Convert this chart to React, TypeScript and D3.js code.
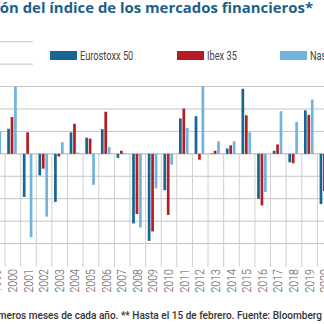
import React from "react";
import * as d3 from "d3";

const years: string[] = [
  "1999", "2000", "2001", "2002", "2003", "2004", "2005", "2006", "2007", "2008", "2009",
  "2010", "2011", "2012", "2013", "2014", "2015", "2016", "2017", "2018", "2019", "2020",
];
const seriesNames: string[] = ["Eurostoxx 50", "Ibex 35", "Nasdaq"];
const eurostoxx: number[] = [3.0, 5.6, -9.6, -4.8, -10.7, 4.8, 3.6, 5.5, -0.9, -15.5, -19.4, -8.1, 7.9, 8.4, 0.1, 1.2, 14.5, -10.0, 0.7, -1.9, 9.7, -11.2];
const ibex: number[] = [2.0, 8.2, 4.8, -3.3, -0.6, 6.7, 3.4, 9.4, 0.7, -13.4, -17.3, -13.6, 10.1, -1.3, 0.7, 1.9, 8.6, -11.5, 2.1, -2.1, 8.7, -8.3];
const nasdaq: number[] = [5.0, 15.0, -18.6, -14.0, 2.6, 0.3, -6.9, 1.5, 0.2, -16.4, -7.7, -2.4, 5.8, 15.1, 2.8, 2.8, 4.8, -8.5, 9.5, 7.1, 12.1, -5.0];
const yTicks: number[] = [-20, -15, -10, -5, 0, 5, 10, 15, 20, 25];
const colors: string[] = ["#176593", "#b51d25", "#72b3db"];
const titleText = "Evolución del índice de los mercados financieros*";
const footerText = "* Primeros meses de cada año. ** Hasta el 15 de febrero. Fuente: Bloomberg";

const W = 324;
const H = 324;

export default function App() {
  const values = [eurostoxx, ibex, nasdaq];
  const step = 15.62;
  const x0 = -10.62;
  const x = d3.scaleBand<string>().domain(years).range([x0, x0 + years.length * step]).padding(0);
  const inner = d3.scaleBand<string>().domain(seriesNames).range([2.2, 11.8]).paddingInner(0.217).paddingOuter(0);
  const y = d3.scaleLinear().domain([-25, 25]).range([266, 41.7]);
  const zero = y(0);
  const boundaries = years.map((yr) => x(yr) as number).concat([x0 + years.length * step]);
  const legendPos = [50, 177, 280];
  const sans = "Roboto, 'Open Sans', sans-serif";

  return (
    <svg width={W} height={H} style={{ position: "absolute", left: 0, top: 0, background: "#fff" }}>
      <rect x={0} y={0} width={W} height={H} fill="#fff" />
      {/* horizontal gridlines */}
      {yTicks.map((t) => (
        <line key={"h" + t} x1={0} x2={W} y1={y(t)} y2={y(t)} stroke={t === 0 ? "#b0b0b0" : "#c4c4c4"} strokeWidth={1} />
      ))}
      {/* vertical tick lines below zero */}
      {boundaries.map((b, i) => (
        <line key={"v" + i} x1={b} x2={b} y1={zero} y2={267} stroke="#cfcfcf" strokeWidth={1} />
      ))}
      {/* legend background */}
      <rect x={33} y={34} width={W - 33} height={44} fill="#fff" />
      {/* bars */}
      {values.map((vals, si) =>
        vals.map((v, i) => {
          const bx = (x(years[i]) as number) + (inner(seriesNames[si]) as number);
          const y1 = y(Math.max(0, v));
          const y2 = y(Math.min(0, v));
          return (
            <rect key={si + "-" + i} x={bx} y={y1} width={inner.bandwidth()} height={Math.max(0.5, y2 - y1)} fill={colors[si]} />
          );
        })
      )}
      {/* legend */}
      {seriesNames.map((s, i) => (
        <g key={"lg" + s}>
          <rect x={legendPos[i]} y={51} width={27} height={9} fill={colors[i]} />
          <text transform={`translate(${legendPos[i] + 30},60) scale(0.74,1)`} fontFamily={sans} fontSize={12.5} fill="#444">
            {s}
          </text>
        </g>
      ))}
      {/* year labels */}
      {years.map((yr) => {
        const cx = (x(yr) as number) + step / 2 - 0.3;
        return (
          <text key={"yl" + yr} transform={`translate(${cx},269) rotate(-90) scale(0.85,1)`} textAnchor="end" dy="0.35em" fontFamily={sans} fontWeight={300} fontSize={12.5} fill="#555">
            {yr}
          </text>
        );
      })}
      {/* title */}
      <text transform="translate(313,12.5) scale(1.095,1)" textAnchor="end" fontFamily="'Open Sans', Roboto, sans-serif" fontWeight={700} fontSize={13.6} fill="#1c5f88">
        {titleText}
      </text>
      {/* footer */}
      <text x={322} y={319} textAnchor="end" fontFamily={sans} fontWeight={500} fontSize={10.05} fill="#333">
        {footerText}
      </text>
    </svg>
  );
}
